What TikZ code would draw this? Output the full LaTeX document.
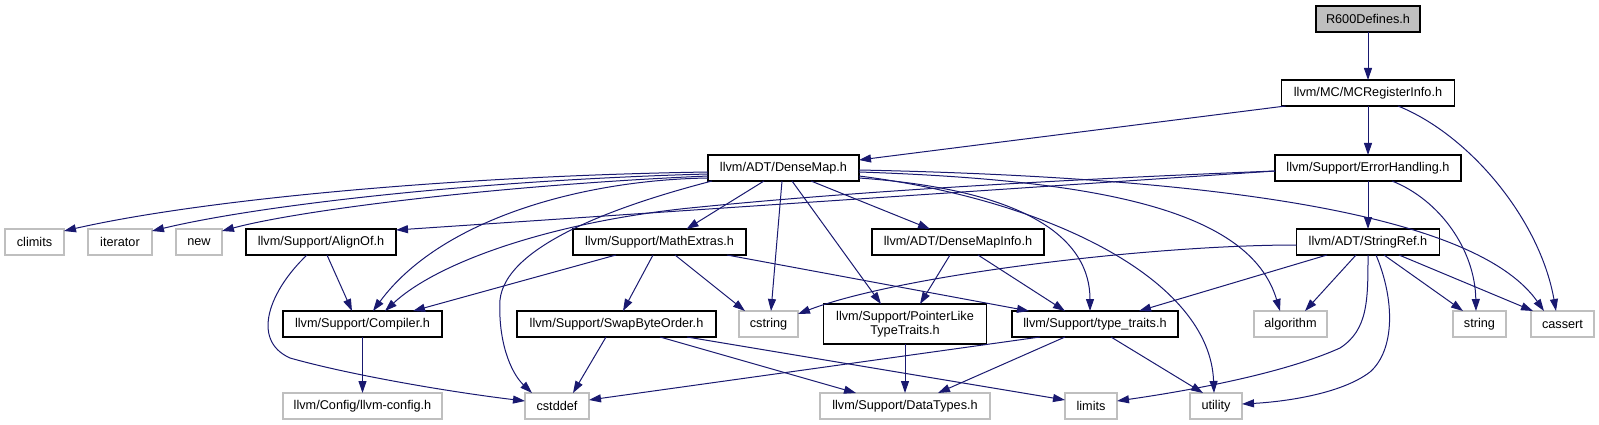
\documentclass[tikz,border=0pt]{standalone}
\usepackage{fontspec}
\setmainfont{Liberation Sans}
\usetikzlibrary{arrows.meta}
\definecolor{edgec}{RGB}{25,25,112}
\definecolor{grayb}{RGB}{191,191,191}
\definecolor{grayf}{RGB}{191,191,191}
\tikzset{
  nb/.style={draw=black, line width=1.2pt, fill=white, inner sep=0pt, outer sep=0pt,
    minimum height=26pt, font=\fontsize{12.7}{14}\selectfont, align=center},
  ng/.style={nb, draw=grayb},
  edge/.style={draw=edgec, line width=1pt, -{Triangle[length=12pt,width=8pt]}},
}
\begin{document}
\begin{tikzpicture}[x=1pt,y=-1pt]
\useasboundingbox (0,0) rectangle (1599,425);
% rank 0
\node[nb, fill=grayf, minimum width=104pt] (r600) at (1368,19) {R600Defines.h};
% rank 1
\node[nb, minimum width=173pt] (mcreg) at (1368,93) {llvm/MC/MCRegisterInfo.h};
% rank 2
\node[nb, minimum width=151pt] (dm) at (783.5,168) {llvm/ADT/DenseMap.h};
\node[nb, minimum width=186pt] (errh) at (1368,168) {llvm/Support/ErrorHandling.h};
% rank 3
\node[ng, minimum width=59pt] (climits) at (34.5,242) {climits};
\node[ng, minimum width=64pt] (iter) at (120,242) {iterator};
\node[ng, minimum width=46pt] (new) at (199,242) {new};
\node[nb, minimum width=150pt] (alignof) at (321,242) {llvm/Support/AlignOf.h};
\node[nb, minimum width=173pt] (mathx) at (659.5,242) {llvm/Support/MathExtras.h};
\node[nb, minimum width=172pt] (dmi) at (958,242) {llvm/ADT/DenseMapInfo.h};
\node[nb, minimum width=143pt] (sref) at (1368,242) {llvm/ADT/StringRef.h};
% rank 4
\node[nb, minimum width=159pt] (comp) at (362.5,324) {llvm/Support/Compiler.h};
\node[nb, minimum width=199pt] (swap) at (616.5,324) {llvm/Support/SwapByteOrder.h};
\node[ng, minimum width=59pt] (cstring) at (768.5,324) {cstring};
\node[nb, minimum width=163pt, minimum height=40pt] (pl) at (905,324) {llvm/Support/PointerLike\\TypeTraits.h};
\node[nb, minimum width=166pt] (tt) at (1095,324) {llvm/Support/type\_traits.h};
\node[ng, minimum width=73pt] (algo) at (1290.5,324) {algorithm};
\node[ng, minimum width=53pt] (string) at (1479.5,324) {string};
\node[ng, minimum width=63pt] (cassert) at (1562.5,324) {cassert};
% rank 5
\node[ng, minimum width=159pt] (cfg) at (362.5,406) {llvm/Config/llvm-config.h};
\node[ng, minimum width=64pt] (cstddef) at (557,406) {cstddef};
\node[ng, minimum width=170pt] (dt) at (905,406) {llvm/Support/DataTypes.h};
\node[ng, minimum width=52pt] (limits) at (1091,406) {limits};
\node[ng, minimum width=52pt] (util) at (1216,406) {utility};

% edges
\draw[edge] (r600.south) -- (mcreg.north);
\draw[edge] ([xshift=4]mcreg.south west) -- ([yshift=-5]dm.north east);
\draw[edge] (mcreg.south) -- (errh.north);
\draw[edge] ([xshift=30]mcreg.south) .. controls (1470,135) and (1540,220) .. ([xshift=-6.5]cassert.north);
\draw[edge] (errh.south) -- (sref.north);
\draw[edge] ([xshift=24]errh.south) .. controls (1440,200) and (1475,250) .. ([xshift=-3.5]string.north);
\draw[edge] ([yshift=-3]errh.west) .. controls (1050,180) and (850,192) .. (700,207) .. controls (560,220) and (440,260) .. ([xshift=22.5]comp.north);
\draw[edge] ([yshift=-3]errh.west) -- ([yshift=-1]alignof.north east);

\draw[edge] ([yshift=-4]dm.west) .. controls (450,176) and (200,200) .. ([yshift=-2]climits.north east);
\draw[edge] ([yshift=-6]dm.west) .. controls (480,180) and (260,205) .. ([yshift=-2]iter.north east);
\draw[edge] ([yshift=-8]dm.west) .. controls (500,185) and (300,210) .. ([yshift=-2]new.north east);
\draw[edge] ([yshift=-10]dm.west) .. controls (580,180) and (440,220) .. ([xshift=10.5]comp.north);
\draw[edge] ([xshift=4]dm.south west) .. controls (600,210) and (505,250) .. (500,300) .. controls (498,340) and (510,372) .. ([xshift=-25]cstddef.north);
\draw[edge] ([xshift=-19.5]dm.south) -- ([xshift=27]mathx.north);
\draw[edge] ([xshift=-1.5]dm.south) -- ([xshift=2.5]cstring.north);
\draw[edge] ([xshift=8.5]dm.south) -- ([xshift=-24]pl.north);
\draw[edge] ([xshift=27.5]dm.south) -- ([xshift=-28]dmi.north);
\draw[edge] ([yshift=-10]dm.east) .. controls (1030,190) and (1090,240) .. ([xshift=-5]tt.north);
\draw[edge] ([yshift=-8]dm.east) .. controls (1050,200) and (1210,280) .. ([xshift=-2]util.north);
\draw[edge] ([yshift=-4]dm.east) .. controls (1100,180) and (1250,210) .. ([xshift=-10.5]algo.north);
\draw[edge] ([yshift=-2]dm.east) .. controls (1250,178) and (1480,220) .. ([xshift=-18.5]cassert.north);

\draw[edge] ([xshift=6]alignof.south) -- ([xshift=-10.5]comp.north);
\draw[edge] ([xshift=-14]alignof.south) .. controls (270,290) and (250,340) .. (290,358) .. controls (350,375) and (450,392) .. ([yshift=5]cstddef.west);

\draw[edge] ([xshift=-43.5]mathx.south) -- ([xshift=50.5]comp.north);
\draw[edge] ([xshift=-6.5]mathx.south) -- ([xshift=6.5]swap.north);
\draw[edge] ([xshift=15.5]mathx.south) -- ([xshift=-23.5]cstring.north);
\draw[edge] ([xshift=67.5]mathx.south) -- ([xshift=-66]tt.north);

\draw[edge] ([xshift=-8]dmi.south) -- ([xshift=15]pl.north);
\draw[edge] ([xshift=20]dmi.south) -- ([xshift=-30]tt.north);

\draw[edge] ([yshift=-3]sref.west) .. controls (1150,245) and (900,275) .. ([yshift=-3]cstring.north east);
\draw[edge] ([xshift=-41]sref.south) -- ([xshift=44]tt.north);
\draw[edge] ([xshift=-12]sref.south) -- ([xshift=14.5]algo.north);
\draw[edge] (sref.south) .. controls (1368,300) and (1368,330) .. (1340,348) .. controls (1280,375) and (1180,392) .. ([yshift=5]limits.east);
\draw[edge] ([xshift=8]sref.south) .. controls (1395,300) and (1395,350) .. (1370,372) .. controls (1340,395) and (1280,402) .. ([yshift=2]util.east);
\draw[edge] ([xshift=16]sref.south) -- ([xshift=-16.5]string.north);
\draw[edge] ([xshift=31]sref.south) -- ([xshift=-29.5]cassert.north);

\draw[edge] (comp.south) -- (cfg.north);
\draw[edge] ([xshift=-10.5]swap.south) -- ([xshift=16]cstddef.north);
\draw[edge] ([xshift=43.5]swap.south) -- ([xshift=-49]dt.north);
\draw[edge] ([xshift=70.5]swap.south) -- ([yshift=6]limits.west);
\draw[edge] (pl.south) -- (dt.north);
\draw[edge] ([xshift=-55]tt.south) -- ([yshift=6]cstddef.east);
\draw[edge] ([xshift=-30]tt.south) -- ([xshift=33]dt.north);
\draw[edge] ([xshift=16]tt.south) -- ([xshift=-13]util.north);
\end{tikzpicture}
\end{document}
